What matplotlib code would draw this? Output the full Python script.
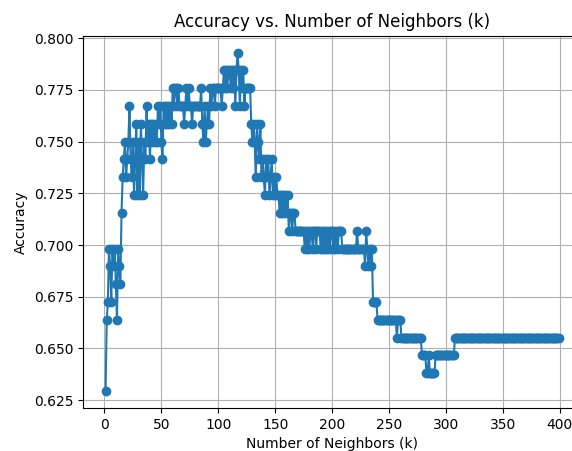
import matplotlib
matplotlib.use("Agg")
import matplotlib.pyplot as plt

# number of neighbours tried
k_values = list(range(1, 400))

# test accuracy for each k
accuracy = [
    0.6293, 0.6638, 0.6724, 0.6983, 0.6897, 0.6724, 0.6983, 0.6897, 0.6983, 0.6810,
    0.6638, 0.6983, 0.6897, 0.6810, 0.7155, 0.7328, 0.7414, 0.7500, 0.7328, 0.7414,
    0.7500, 0.7672, 0.7414, 0.7328, 0.7500, 0.7241, 0.7414, 0.7586, 0.7241, 0.7500,
    0.7241, 0.7586, 0.7414, 0.7241, 0.7500, 0.7414, 0.7672, 0.7500, 0.7586, 0.7414,
    0.7586, 0.7500, 0.7586, 0.7500, 0.7586, 0.7500, 0.7672, 0.7586, 0.7672, 0.7500,
    0.7414, 0.7672, 0.7586, 0.7672, 0.7586, 0.7672, 0.7586, 0.7672, 0.7586, 0.7759,
    0.7672, 0.7759, 0.7759, 0.7672, 0.7759, 0.7672, 0.7672, 0.7672, 0.7672, 0.7586,
    0.7672, 0.7759, 0.7672, 0.7759, 0.7672, 0.7672, 0.7586, 0.7672, 0.7672, 0.7672,
    0.7672, 0.7672, 0.7672, 0.7672, 0.7759, 0.7586, 0.7500, 0.7672, 0.7500, 0.7586,
    0.7672, 0.7586, 0.7759, 0.7672, 0.7759, 0.7759, 0.7672, 0.7759, 0.7759, 0.7759,
    0.7759, 0.7759, 0.7672, 0.7759, 0.7845, 0.7759, 0.7845, 0.7759, 0.7845, 0.7845,
    0.7759, 0.7845, 0.7759, 0.7845, 0.7672, 0.7845, 0.7931, 0.7845, 0.7672, 0.7845,
    0.7759, 0.7845, 0.7672, 0.7759, 0.7759, 0.7759, 0.7759, 0.7759, 0.7586, 0.7500,
    0.7586, 0.7500, 0.7328, 0.7586, 0.7500, 0.7414, 0.7586, 0.7328, 0.7414, 0.7328,
    0.7241, 0.7414, 0.7328, 0.7414, 0.7241, 0.7328, 0.7414, 0.7241, 0.7328, 0.7241,
    0.7328, 0.7241, 0.7241, 0.7155, 0.7241, 0.7155, 0.7241, 0.7155, 0.7241, 0.7155,
    0.7241, 0.7069, 0.7155, 0.7155, 0.7069, 0.7155, 0.7155, 0.7069, 0.7069, 0.7069,
    0.7069, 0.7069, 0.7069, 0.7069, 0.7069, 0.6983, 0.7069, 0.6983, 0.7069, 0.6983,
    0.7069, 0.7069, 0.6983, 0.7069, 0.7069, 0.6983, 0.7069, 0.7069, 0.7069, 0.6983,
    0.7069, 0.6983, 0.7069, 0.6983, 0.7069, 0.6983, 0.7069, 0.6983, 0.7069, 0.7069,
    0.6983, 0.7069, 0.6983, 0.7069, 0.6983, 0.7069, 0.7069, 0.7069, 0.6983, 0.6983,
    0.6983, 0.6983, 0.6983, 0.6983, 0.6983, 0.6983, 0.6983, 0.6983, 0.6983, 0.6983,
    0.6983, 0.7069, 0.6983, 0.6983, 0.6983, 0.6983, 0.6983, 0.6983, 0.6897, 0.7069,
    0.6983, 0.6897, 0.6983, 0.6897, 0.6983, 0.6724, 0.6724, 0.6724, 0.6724, 0.6638,
    0.6638, 0.6638, 0.6638, 0.6638, 0.6638, 0.6638, 0.6638, 0.6638, 0.6638, 0.6638,
    0.6638, 0.6638, 0.6638, 0.6638, 0.6638, 0.6638, 0.6552, 0.6638, 0.6638, 0.6638,
    0.6552, 0.6552, 0.6552, 0.6552, 0.6552, 0.6552, 0.6552, 0.6552, 0.6552, 0.6552,
    0.6552, 0.6552, 0.6552, 0.6552, 0.6552, 0.6552, 0.6552, 0.6552, 0.6466, 0.6466,
    0.6466, 0.6466, 0.6379, 0.6379, 0.6466, 0.6379, 0.6379, 0.6379, 0.6379, 0.6379,
    0.6466, 0.6466, 0.6466, 0.6466, 0.6466, 0.6466, 0.6466, 0.6466, 0.6466, 0.6466,
    0.6466, 0.6466, 0.6466, 0.6466, 0.6466, 0.6466, 0.6466, 0.6552, 0.6552, 0.6552,
] + [0.6552] * 89

x_ticks = [0, 50, 100, 150, 200, 250, 300, 350, 400]

fig = plt.figure(figsize=(5.72, 4.51), dpi=100)
# the right edge of the axes runs past the figure, as in the cropped original
ax = fig.add_axes([0.145, 0.095, 0.871, 0.826])

ax.plot(k_values, accuracy, marker='o', linestyle='-')

ax.set_title("Accuracy vs. Number of Neighbors (k)")
ax.set_xlabel("Number of Neighbors (k)")
ax.set_ylabel("Accuracy")
ax.set_xticks(x_ticks)
ax.grid(True)

fig.savefig("out.png", dpi=100)
plt.close(fig)
